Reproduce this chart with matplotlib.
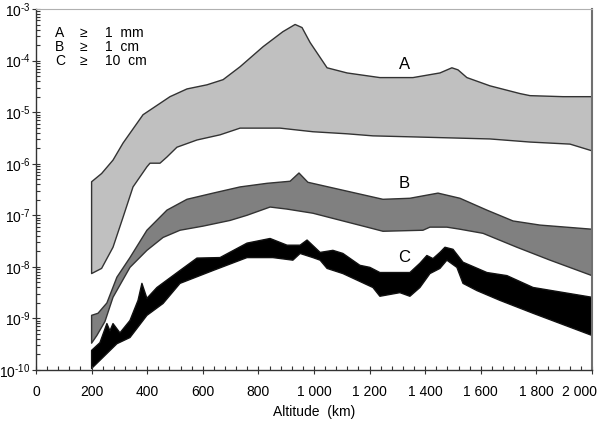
import numpy as np
import matplotlib
matplotlib.use("Agg")
import matplotlib.pyplot as plt
from matplotlib.ticker import FixedLocator, FuncFormatter, NullFormatter
from matplotlib.transforms import ScaledTranslation

plt.rcParams['font.family'] = ['Liberation Sans', 'DejaVu Sans']
plt.rcParams['mathtext.fontset'] = 'custom'
plt.rcParams['mathtext.rm'] = 'Liberation Sans'
plt.rcParams['mathtext.it'] = 'Liberation Sans'

# ---- data: altitude (km) and log10(flux) of band edges ----
a_up_km = [200, 236, 277, 313, 385, 482, 543, 615, 673, 734, 817, 888, 932, 957, 986, 1047, 1119,
           1237, 1356, 1453, 1496, 1518, 1550, 1633, 1741, 1777, 1896, 2000]
a_up_log = [-6.35, -6.19, -5.93, -5.60, -5.05, -4.70, -4.55, -4.47, -4.37, -4.12, -3.73, -3.44, -3.30,
            -3.36, -3.65, -4.14, -4.24, -4.33, -4.33, -4.24, -4.14, -4.18, -4.33, -4.49, -4.64, -4.68,
            -4.70, -4.70]
a_lo_km = [200, 236, 277, 313, 349, 399, 410, 446, 471, 507, 579, 662, 734, 878, 996, 1119, 1212,
           1356, 1633, 1777, 1921, 2000]
a_lo_log = [-8.13, -8.03, -7.62, -7.04, -6.45, -6.06, -5.99, -5.99, -5.87, -5.68, -5.54, -5.44, -5.31,
            -5.31, -5.38, -5.42, -5.46, -5.48, -5.52, -5.58, -5.62, -5.75]

b_up_km = [200, 223, 255, 291, 338, 399, 471, 543, 637, 734, 831, 914, 946, 978, 1068, 1248, 1345,
           1446, 1525, 1622, 1716, 1813, 2000]
b_up_log = [-8.94, -8.90, -8.70, -8.20, -7.82, -7.29, -6.90, -6.69, -6.57, -6.45, -6.38, -6.34, -6.18,
            -6.36, -6.47, -6.69, -6.67, -6.57, -6.67, -6.90, -7.11, -7.19, -7.27]
b_lo_km = [200, 219, 248, 277, 338, 399, 457, 518, 601, 698, 759, 842, 903, 996, 1068, 1191, 1248,
           1392, 1417, 1478, 1525, 1608, 1730, 1849, 2000]
b_lo_log = [-9.48, -9.33, -9.06, -8.59, -8.01, -7.68, -7.43, -7.29, -7.21, -7.10, -7.00, -6.84, -6.88,
            -6.96, -7.06, -7.23, -7.31, -7.29, -7.23, -7.23, -7.27, -7.35, -7.62, -7.87, -8.17]

c_up_km = [200, 230, 255, 266, 277, 302, 338, 367, 381, 399, 435, 518, 579, 662, 759, 842, 903, 950,
           975, 1022, 1068, 1104, 1165, 1201, 1237, 1345, 1381, 1406, 1428, 1453, 1471, 1500, 1536,
           1622, 1694, 1788, 2000]
c_up_log = [-9.62, -9.47, -9.10, -9.24, -9.10, -9.28, -9.04, -8.65, -8.32, -8.61, -8.40, -8.07, -7.83,
            -7.82, -7.54, -7.45, -7.58, -7.58, -7.48, -7.72, -7.68, -7.74, -7.97, -8.01, -8.11, -8.11,
            -7.93, -7.78, -7.84, -7.72, -7.62, -7.66, -7.91, -8.11, -8.17, -8.40, -8.59]
c_lo_km = [200, 255, 291, 338, 399, 457, 518, 637, 759, 852, 924, 950, 996, 1022, 1047, 1104, 1140,
           1212, 1237, 1309, 1345, 1381, 1417, 1453, 1478, 1514, 1536, 1586, 1669, 1788, 2000]
c_lo_log = [-9.97, -9.68, -9.49, -9.37, -8.94, -8.71, -8.32, -8.07, -7.82, -7.82, -7.87, -7.74, -7.82,
            -7.87, -8.03, -8.13, -8.22, -8.40, -8.57, -8.50, -8.57, -8.40, -8.13, -8.03, -7.87, -8.01,
            -8.32, -8.46, -8.65, -8.90, -9.33]

x_ticks = [0, 200, 400, 600, 800, 1000, 1200, 1400, 1600, 1800, 2000]
y_exponents = [-10, -9, -8, -7, -6, -5, -4, -3]
legend_letters = ["A", "B", "C"]
legend_values = ["1  mm", "1  cm", "10  cm"]
band_labels = ["A", "B", "C"]
label_km = [1327, 1324, 1324]
label_val = [8.3e-5, 4.2e-7, 1.5e-8]

fig = plt.figure(figsize=(6.01, 4.21), dpi=100)
ax = fig.add_axes([36/601, 1 - 370/421, (592-36)/601, (370-9)/421])

def band(ax, xu, yu, xl, yl, fc, ec):
    xs = np.concatenate([np.array(xu), np.array(xl)[::-1]])
    ys = 10 ** np.concatenate([np.array(yu), np.array(yl)[::-1]])
    ax.fill(xs, ys, facecolor=fc, edgecolor=ec, linewidth=1.0, joinstyle='round')

band(ax, a_up_km, a_up_log, a_lo_km, a_lo_log, '#c0c0c0', '#333333')
band(ax, b_up_km, b_up_log, b_lo_km, b_lo_log, '#808080', '#333333')
band(ax, c_up_km, c_up_log, c_lo_km, c_lo_log, '#000000', '#111111')

ax.set_yscale('log')
ax.set_xlim(0, 2000)
ax.set_ylim(1e-10, 1e-3)

ax.xaxis.set_major_locator(FixedLocator(x_ticks))
ax.xaxis.set_minor_locator(FixedLocator(np.arange(0, 2001, 40)))
def fmt(v, pos):
    v = int(round(v))
    if v >= 1000:
        return f"{v // 1000} {v % 1000:03d}"
    return str(v)
ax.xaxis.set_major_formatter(FuncFormatter(fmt))
major_y = [10.0 ** e for e in y_exponents]
minor_y = [m * 10.0 ** e for e in y_exponents[:-1] for m in range(2, 10)]
ax.yaxis.set_major_locator(FixedLocator(major_y))
ax.yaxis.set_minor_locator(FixedLocator(minor_y))
ax.yaxis.set_minor_formatter(NullFormatter())
ax.yaxis.set_major_formatter(FuncFormatter(
    lambda v, p: r"$\mathregular{10^{\text{-}%d}}$" % abs(int(round(np.log10(v))))))

ax.tick_params(which='major', direction='inout', length=6, width=0.8, color='#333333',
               labelsize=10)
ax.tick_params(which='minor', direction='in', length=3, width=0.8, color='#333333')
ax.tick_params(axis='y', which='major', pad=1, labelsize=10)
ax.tick_params(axis='x', which='major', pad=8)

fig.canvas.draw()
last = ax.get_xticklabels()[-1]
last.set_transform(last.get_transform() + ScaledTranslation(-13/100, 0, fig.dpi_scale_trans))

for s in ['left', 'bottom']:
    ax.spines[s].set_color('#333333')
    ax.spines[s].set_linewidth(1.0)
ax.spines['top'].set_color('#b0b0b0')
ax.spines['right'].set_color('#707070')
ax.spines['right'].set_linewidth(1.5)

ax.set_xlabel("Altitude  (km)", fontsize=10, labelpad=4)

for i, (l, v) in enumerate(zip(legend_letters, legend_values)):
    yy = 0.934 - i * 0.039
    ax.text(0.034, yy, l, transform=ax.transAxes, fontsize=10, va='center', ha='left')
    ax.text(0.079, yy, "\u2265", transform=ax.transAxes, fontsize=10, va='center', ha='left')
    ax.text(0.124, yy, v, transform=ax.transAxes, fontsize=10, va='center', ha='left')

for t, xk, yv in zip(band_labels, label_km, label_val):
    ax.text(xk, yv, t, fontsize=12, ha='center', va='center')

fig.savefig("out.png", dpi=100)
